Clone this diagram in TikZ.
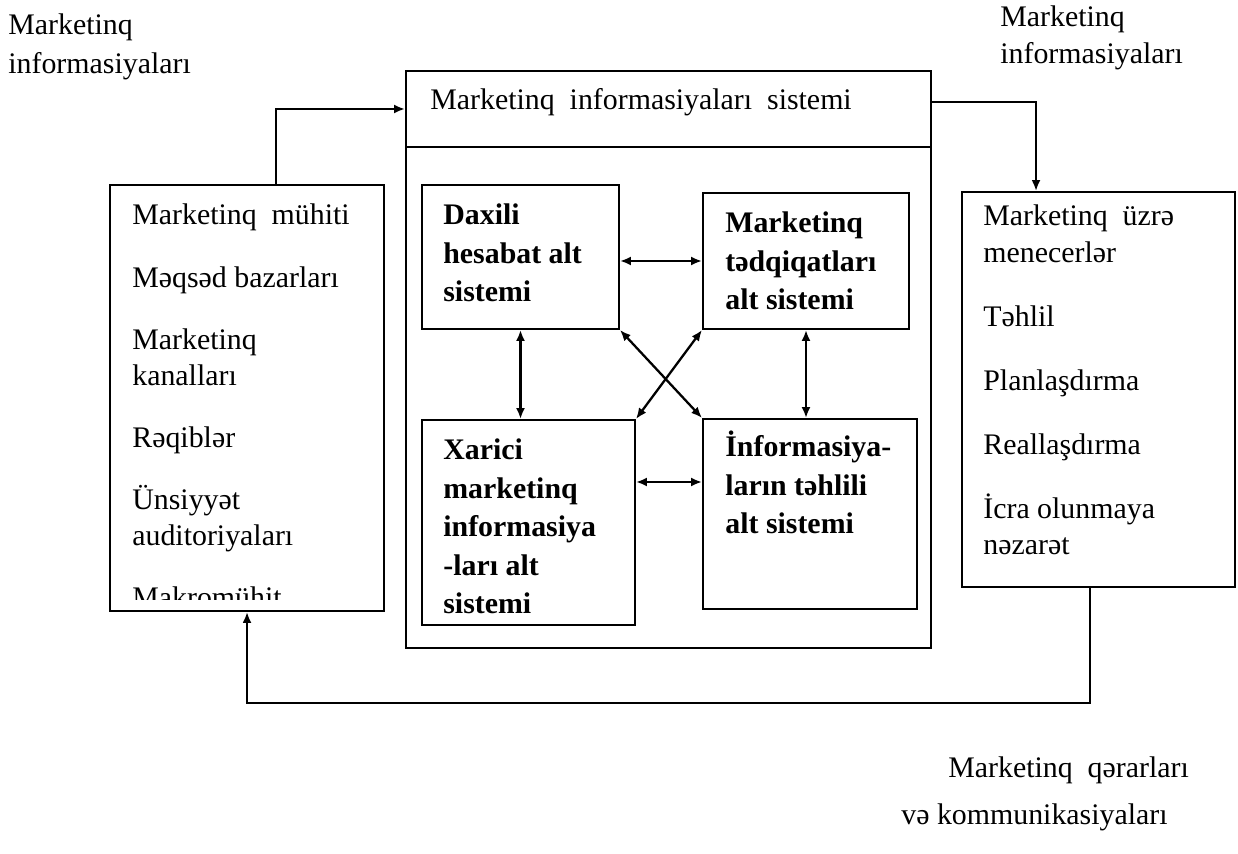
\documentclass[tikz,border=0pt]{standalone}
\usepackage{fontspec}
\setmainfont{Liberation Serif}
\usetikzlibrary{arrows.meta,calc,fit}
\newcommand{\txtrows}[1]{\begin{tabular}[t]{@{}l@{}}#1\end{tabular}}
\tikzset{
    box/.style = {draw, rectangle, line width=1.1pt, inner sep=0pt},
    txt/.style = {anchor=base west, inner sep=0pt,
        font=\fontsize{17}{20.5}\selectfont},
    btxt/.style = {txt, font=\fontsize{17}{21.9}\selectfont\bfseries},
    arrow/.style = {draw, line width=1.3pt, -{Latex[length=0.22cm,width=0.18cm]}},
    darrow/.style = {draw, line width=1.3pt,
        {Latex[length=0.22cm,width=0.18cm]}-{Latex[length=0.22cm,width=0.18cm]}}
}
\begin{document}
\begin{tikzpicture}[x=0.02cm, y=-0.02cm]
            \useasboundingbox (0,0) rectangle (1238,854);
            % outer labels
            \node[txt] (inL) at (8,35) {\txtrows{Marketinq\\[0.04cm]informasiyaları}};
            \node[txt] (inR) at (1000,27) {\txtrows{Marketinq\\informasiyaları}};
            \node[txt] (dec1) at (948,777) {Marketinq\enspace qərarları};
            \node[txt] (dec2) at (901,824) {və kommunikasiyaları};
            % marketing information system
            \node[box, fit={(406,71) (931,648)}] (mis) {};
            \draw[line width=1.1pt] (mis.west |- 0,147) -- (mis.east |- 0,147);
            \node[txt] (mistitle) at (430,110) {Marketinq\enspace informasiyaları\enspace sistemi};
            \node[box, fit={(422,185) (619,329)}] (daxili) {};
            \node[box, fit={(703,193) (909,329)}] (tedqiqat) {};
            \node[box, fit={(422,420) (635,625)}] (xarici) {};
            \node[box, fit={(703,419) (917,609)}] (tehlil) {};
            \node[btxt] at (443,225) {\txtrows{Daxili\\hesabat alt\\sistemi}};
            \node[btxt] at (725,233) {\txtrows{Marketinq\\tədqiqatları\\alt sistemi}};
            \node[btxt] at (443,460) {\txtrows{Xarici\\marketinq\\informasiya\\-ları alt\\sistemi}};
            \node[btxt] at (725,457) {\txtrows{İnformasiya-\\ların təhlili\\alt sistemi}};
            \draw[darrow] (daxili.east |- 0,261) -- (tedqiqat.west |- 0,261);
            \draw[darrow] (xarici.east |- 0,482) -- (tehlil.west |- 0,482);
            \draw[darrow] (daxili.south) -- (xarici.north -| daxili.south);
            \draw[darrow] (tedqiqat.south) -- (tehlil.north -| tedqiqat.south);
            \draw[darrow] (daxili.south east) -- (tehlil.north west);
            \draw[darrow] (tedqiqat.south west) -- (xarici.north east);
            % environment
            \node[box, fit={(110,185) (384,611)}] (env) {};
            \begin{scope}
                \clip (110,185) rectangle (384,600);
                \node[txt] (envtxt) at (132,225) {\txtrows{Marketinq\enspace mühiti\\[0.52cm]
                    Məqsəd bazarları\\[0.52cm]
                    Marketinq\\kanalları\\[0.52cm]
                    Rəqiblər\\[0.52cm]
                    Ünsiyyət\\auditoriyaları\\[0.52cm]
                    Makromühit}};
            \end{scope}
            % managers
            \node[box, fit={(962,192) (1235,587)}] (mgr) {};
            \node[txt] (mgrtxt) at (983,226) {\txtrows{Marketinq\enspace üzrə\\menecerlər\\[0.56cm]
                Təhlil\\[0.56cm]
                Planlaşdırma\\[0.56cm]
                Reallaşdırma\\[0.56cm]
                İcra olunmaya\\nəzarət}};
            % flows
            \draw[arrow] ($(env.north west)+(167,0)$) |- (mis.west |- 0,109);
            \draw[arrow] (mis.east |- 0,102) -| ($(mgr.north west)+(75,0)$);
            \draw[arrow] ($(mgr.south west)+(129,0)$) -- ++(0,115) -| ($(env.south west)+(138,0)$);
        \end{tikzpicture}
\end{document}
